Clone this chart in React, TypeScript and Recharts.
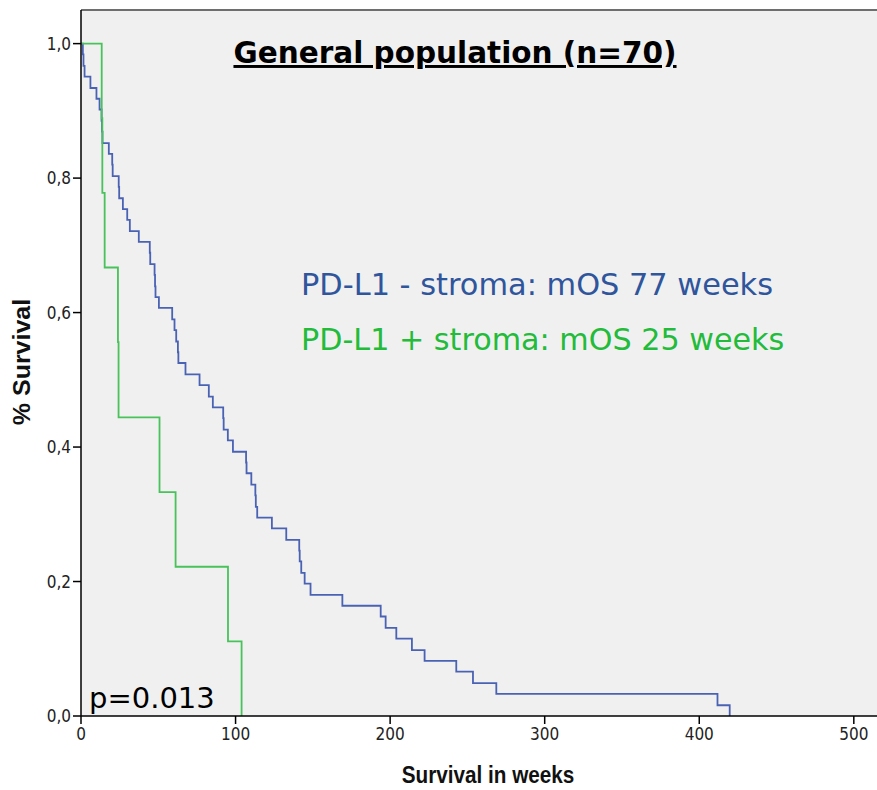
import React from 'react';
import { LineChart, Line, XAxis, YAxis, ReferenceArea, ReferenceLine } from 'recharts';

// Kaplan-Meier steps (weeks, survival after the event)
const blueWeeks = [
  0, 1.2, 1.6, 2.3, 6.1, 10.0, 12.0, 13.3, 13.6, 13.9,
  18.0, 20.2, 20.5, 24.4, 24.7, 27.1, 29.9, 31.6, 37.4, 44.5,
  44.8, 47.6, 47.9, 48.2, 50.4, 59.0, 60.5, 61.6, 62.7, 63.0,
  67.6, 76.7, 82.7, 85.3, 92.0, 92.3, 95.0, 98.3, 106.8, 107.1,
  110.2, 112.8, 113.1, 114.0, 123.5, 132.8, 141.2, 141.5, 142.5, 144.7,
  148.5, 169.1, 193.9, 197.1, 204.0, 214.1, 222.3, 242.8, 253.6, 268.7,
  411.8, 419.7,
];
const blueSurvival = [
  1.0, 0.984, 0.967, 0.951, 0.934, 0.918, 0.902, 0.885, 0.869, 0.852,
  0.836, 0.820, 0.803, 0.787, 0.770, 0.754, 0.738, 0.721, 0.705, 0.689,
  0.672, 0.656, 0.639, 0.623, 0.607, 0.590, 0.574, 0.557, 0.541, 0.525,
  0.508, 0.492, 0.475, 0.459, 0.443, 0.426, 0.410, 0.393, 0.377, 0.361,
  0.344, 0.328, 0.311, 0.295, 0.279, 0.262, 0.246, 0.230, 0.213, 0.197,
  0.180, 0.164, 0.148, 0.131, 0.115, 0.098, 0.082, 0.066, 0.049, 0.033,
  0.016, 0,
];
const greenWeeks = [0, 13.4, 13.8, 15.3, 23.9, 24.3, 50.8, 61.2, 95.1, 103.9];
const greenSurvival = [1.0, 0.889, 0.778, 0.667, 0.556, 0.444, 0.333, 0.222, 0.111, 0];

const xTicks = [0, 100, 200, 300, 400, 500];
const yTicks = [0, 0.2, 0.4, 0.6, 0.8, 1.0];

const blueData = blueWeeks.map((t, i) => ({ t, s: blueSurvival[i] }));
const greenData = greenWeeks.map((t, i) => ({ t, s: greenSurvival[i] }));

const narrow = '"Liberation Sans Narrow", "DejaVu Sans Condensed", Arial, sans-serif';
const arial = '"Liberation Sans", Arial, sans-serif';
const verdana = '"DejaVu Sans", Verdana, sans-serif';

export default function App() {
  return (
    <div style={{ position: 'absolute', left: 0, top: 0, width: 877, height: 790 }}>
      <LineChart width={877} height={790} margin={{ top: 10, right: 0, bottom: 0, left: 0 }}>
        <ReferenceArea x1={0} x2={515} y1={0} y2={1.05} fill="#f0f0f0" fillOpacity={1} stroke="none" />
        <ReferenceLine y={1.05} stroke="#6e6e6e" strokeWidth={2} />
        <XAxis
          type="number"
          dataKey="t"
          domain={[0, 515]}
          ticks={xTicks}
          allowDataOverflow
          height={74}
          tickSize={8}
          tickMargin={4}
          axisLine={{ stroke: '#000', strokeWidth: 1.5 }}
          tickLine={{ stroke: '#000', strokeWidth: 1.5 }}
          tick={{ fontFamily: narrow, fontSize: 17, fill: '#222' }}
        />
        <YAxis
          type="number"
          domain={[0, 1.05]}
          ticks={yTicks}
          allowDataOverflow
          width={81}
          tickSize={8}
          tickMargin={2}
          tickFormatter={(v: number) => v.toFixed(1).replace('.', ',')}
          axisLine={{ stroke: '#000', strokeWidth: 1.5 }}
          tickLine={{ stroke: '#000', strokeWidth: 1.5 }}
          tick={{ fontFamily: narrow, fontSize: 17, fill: '#222' }}
        />
        <Line
          data={blueData}
          dataKey="s"
          type="stepAfter"
          stroke="#4a62b4"
          strokeWidth={1.8}
          dot={false}
          isAnimationActive={false}
        />
        <Line
          data={greenData}
          dataKey="s"
          type="stepAfter"
          stroke="#48c25a"
          strokeWidth={1.8}
          dot={false}
          isAnimationActive={false}
        />
      </LineChart>
      <svg width={877} height={790} style={{ position: 'absolute', left: 0, top: 0, pointerEvents: 'none' }}>
        <text
          x={455}
          y={63}
          textAnchor="middle"
          fontFamily={verdana}
          fontWeight="bold"
          fontSize={29.5}
          fill="#000"
          textDecoration="underline"
          style={{ textDecorationSkipInk: 'none' }}
        >
          General population (n=70)
        </text>
        <text x={301} y={295} fontFamily={verdana} fontSize={30.4} fill="#2f559c">
          PD-L1 - stroma: mOS 77 weeks
        </text>
        <text x={301} y={350} fontFamily={verdana} fontSize={30.2} fill="#22bb3a">
          PD-L1 + stroma: mOS 25 weeks
        </text>
        <text x={89} y={708} fontFamily={verdana} fontSize={29} fill="#000">
          p=0.013
        </text>
        <text
          transform="translate(488,783) scale(0.9,1)"
          textAnchor="middle"
          fontFamily={arial}
          fontWeight="bold"
          fontSize={23}
          fill="#111"
        >
          Survival in weeks
        </text>
        <text
          transform="translate(30,362) rotate(-90) scale(1,0.92)"
          textAnchor="middle"
          fontFamily={arial}
          fontWeight="bold"
          fontSize={25}
          fill="#111"
        >
          % Survival
        </text>
      </svg>
    </div>
  );
}
